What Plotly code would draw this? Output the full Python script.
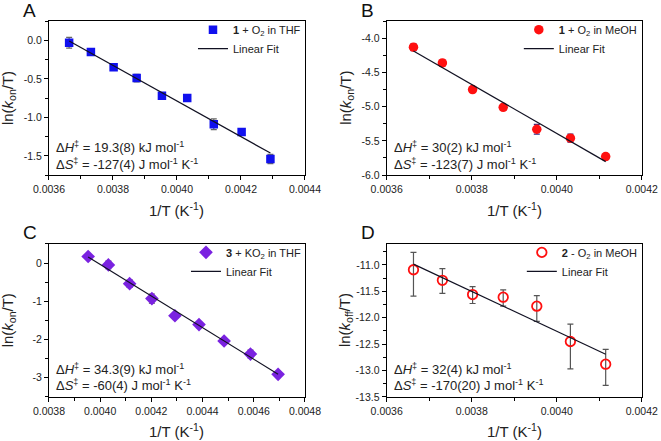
import numpy as np
import plotly.graph_objects as go

# ---------------- data ----------------
invT_A = [0.003663, 0.003731, 0.003802, 0.003874, 0.003953, 0.004032, 0.004115, 0.004202, 0.004292]
lnk_A = [-0.03, -0.15, -0.35, -0.49, -0.72, -0.75, -1.09, -1.19, -1.54]
err_A = [0.07, 0.04, 0.02, 0.05, 0.03, 0.02, 0.07, 0.03, 0.06]

invT_B = [0.003663, 0.003731, 0.003802, 0.003874, 0.003953, 0.004032, 0.004115]
lnk_B = [-4.13, -4.36, -4.75, -5.01, -5.33, -5.46, -5.73]
err_B = [0.05, 0.04, 0.04, 0.04, 0.07, 0.06, 0.04]

invT_C = [0.003953, 0.004032, 0.004115, 0.004202, 0.004292, 0.004386, 0.004484, 0.004587, 0.004695]
lnk_C = [0.17, -0.05, -0.54, -0.93, -1.38, -1.61, -2.04, -2.38, -2.91]
err_C = [0.05, 0.10, 0.10, 0.12, 0.06, 0.08, 0.06, 0.10, 0.04]

invT_D = [0.003663, 0.003731, 0.003802, 0.003874, 0.003953, 0.004032, 0.004115]
lnk_D = [-11.09, -11.29, -11.56, -11.61, -11.78, -12.45, -12.88]
errp_D = [0.33, 0.22, 0.15, 0.14, 0.20, 0.33, 0.28]
errm_D = [0.50, 0.25, 0.17, 0.17, 0.29, 0.52, 0.40]

# y tick values (labels drawn with a plain hyphen as in the original)
yticks_A = [0.0, -0.5, -1.0, -1.5]
yticks_B = [-4.0, -4.5, -5.0, -5.5, -6.0]
yticks_C = [0, -1, -2, -3]
yticks_D = [-11.0, -11.5, -12.0, -12.5, -13.0, -13.5]

ann_A = ["Δ<i>H</i><sup>‡</sup> = 19.3(8) kJ mol<sup>-1</sup>", "Δ<i>S</i><sup>‡</sup> = -127(4) J mol<sup>-1</sup> K<sup>-1</sup>"]
ann_B = ["Δ<i>H</i><sup>‡</sup> = 30(2) kJ mol<sup>-1</sup>", "Δ<i>S</i><sup>‡</sup> = -123(7) J mol<sup>-1</sup> K<sup>-1</sup>"]
ann_C = ["Δ<i>H</i><sup>‡</sup> = 34.3(9) kJ mol<sup>-1</sup>", "Δ<i>S</i><sup>‡</sup> = -60(4) J mol<sup>-1</sup> K<sup>-1</sup>"]
ann_D = ["Δ<i>H</i><sup>‡</sup> = 32(4) kJ mol<sup>-1</sup>", "Δ<i>S</i><sup>‡</sup> = -170(20) J mol<sup>-1</sup> K<sup>-1</sup>"]

FONT = "Arial, Liberation Sans, sans-serif"
TXT = "#222222"
W, H = 661, 441

panels = [
    dict(x=invT_A, y=lnk_A, err=err_A, errm=None, name="<b>1</b> + O<sub>2</sub> in THF",
         marker=dict(symbol="square", size=8.5, color="#1010ee"), ecol="#666666",
         xr=[0.0036, 0.0044], yr=[-1.75, 0.25], yt=yticks_A, yfmt="{:.1f}", ydt=0.5, x0=0.0036,
         ytitle="ln(<i>k</i><sub>on</sub>/T)", ann=ann_A, letter="A",
         dom=([0.0741, 0.4614], [0.603, 0.952])),
    dict(x=invT_B, y=lnk_B, err=err_B, errm=None, name="<b>1</b> + O<sub>2</sub> in MeOH",
         marker=dict(symbol="circle", size=9.5, color="#ff1010"), ecol="#302a80",
         xr=[0.0036, 0.0042], yr=[-6.0, -3.75], yt=yticks_B, yfmt="{:.1f}", ydt=0.5, x0=0.0036,
         ytitle="ln(<i>k</i><sub>on</sub>/T)", ann=ann_B, letter="B",
         dom=([0.585, 0.971], [0.603, 0.952])),
    dict(x=invT_C, y=lnk_C, err=err_C, errm=None, name="<b>3</b> + KO<sub>2</sub> in THF",
         marker=dict(symbol="diamond", size=10.5, color="#7a22e0"), ecol="#555555",
         xr=[0.0038, 0.0048], yr=[-3.5, 0.5], yt=yticks_C, yfmt="{:d}", ydt=1, x0=0.0038,
         ytitle="ln(<i>k</i><sub>on</sub>/T)", ann=ann_C, letter="C",
         dom=([0.0741, 0.4614], [0.100, 0.447])),
    dict(x=invT_D, y=lnk_D, err=errp_D, errm=errm_D, name="<b>2</b> - O<sub>2</sub> in MeOH",
         marker=dict(symbol="circle-open", size=9.5, color="#ff1010", line=dict(width=1.8)), ecol="#555555",
         xr=[0.0036, 0.0042], yr=[-13.5, -10.6], yt=yticks_D, yfmt="{:.1f}", ydt=0.5, x0=0.0036,
         ytitle="ln(<i>k</i><sub>off</sub>/T)", ann=ann_D, letter="D",
         dom=([0.585, 0.971], [0.100, 0.447])),
]

fig = go.Figure()
layout = dict(
    width=W, height=H, margin=dict(l=0, r=0, t=0, b=0, autoexpand=False),
    paper_bgcolor="white", plot_bgcolor="white",
    font=dict(family=FONT, size=11, color=TXT),
    annotations=[],
)

for i, p in enumerate(panels):
    k = "" if i == 0 else str(i + 1)
    xa, ya = "x" + k, "y" + k
    lg = "legend" + k
    xs = np.array(p["x"])
    ys = np.array(p["y"])
    ey = dict(type="data", array=p["err"], color=p["ecol"], thickness=1.2, width=3, visible=True)
    if p["errm"] is not None:
        ey["symmetric"] = False
        ey["arrayminus"] = p["errm"]
    fig.add_trace(go.Scatter(x=xs, y=ys, mode="markers", name=p["name"], marker=p["marker"],
                             error_y=ey, xaxis=xa, yaxis=ya, legend=lg))
    slope, icpt = np.polyfit(xs, ys, 1)
    xf = np.array([xs.min(), xs.max()])
    fig.add_trace(go.Scatter(x=xf, y=slope * xf + icpt, mode="lines", name="Linear Fit",
                             line=dict(color="#111122", width=1.2), xaxis=xa, yaxis=ya, legend=lg))
    dx, dy = p["dom"]
    axcommon = dict(showline=True, linecolor="black", linewidth=1.2, mirror=True,
                    ticks="outside", ticklen=4, tickwidth=1, tickcolor="black",
                    showgrid=False, zeroline=False, automargin=False,
                    tickfont=dict(size=10.5, family=FONT, color=TXT))
    layout["xaxis" + k] = dict(domain=dx, range=p["xr"], anchor=ya, tick0=p["x0"], dtick=0.0002,
                               tickformat=".4f",
                               minor=dict(ticks="outside", ticklen=2.5, dtick=0.0001, tick0=p["x0"], tickcolor="black"),
                               **axcommon)
    layout["yaxis" + k] = dict(domain=dy, range=p["yr"], anchor=xa,
                               tickmode="array", tickvals=p["yt"],
                               ticktext=[p["yfmt"].format(v) for v in p["yt"]],
                               minor=dict(ticks="outside", ticklen=2.5, dtick=p["ydt"] / 2, tick0=0, tickcolor="black"),
                               **axcommon)
    # axis titles as annotations (fixed positions)
    layout["annotations"].append(dict(text="1/T (K<sup>-1</sup>)", xref="paper", yref="paper",
                                      x=(dx[0] + dx[1]) / 2, y=dy[0] - 34 / H, xanchor="center", yanchor="middle",
                                      showarrow=False, font=dict(size=15, family=FONT, color=TXT)))
    layout["annotations"].append(dict(text=p["ytitle"], xref="paper", yref="paper", textangle=-90,
                                      x=dx[0] - 41 / W, y=(dy[0] + dy[1]) / 2, xanchor="center", yanchor="middle",
                                      showarrow=False, font=dict(size=15, family=FONT, color=TXT)))
    layout[lg] = dict(x=dx[1] + 1 / W, y=dy[1] + 6 / H, xanchor="right", yanchor="top",
                      xref="paper", yref="paper",
                      bgcolor="rgba(0,0,0,0)", borderwidth=0, tracegroupgap=0,
                      font=dict(size=11, family=FONT, color=TXT), itemwidth=30)
    layout["annotations"].append(dict(text=p["ann"][0], xref=xa + " domain", yref=ya + " domain",
                                      x=0.02, y=0.18, xanchor="left", yanchor="middle", showarrow=False,
                                      font=dict(size=13, family=FONT, color=TXT)))
    layout["annotations"].append(dict(text=p["ann"][1], xref=xa + " domain", yref=ya + " domain",
                                      x=0.02, y=0.075, xanchor="left", yanchor="middle", showarrow=False,
                                      font=dict(size=13, family=FONT, color=TXT)))
    layout["annotations"].append(dict(text=p["letter"], xref="paper", yref="paper",
                                      x=dx[0] - 19 / W, y=dy[1] + 11 / H, xanchor="center", yanchor="middle",
                                      showarrow=False, font=dict(size=19, family=FONT, color="#111111")))

fig.update_layout(**layout)
fig.write_html("out.html")
